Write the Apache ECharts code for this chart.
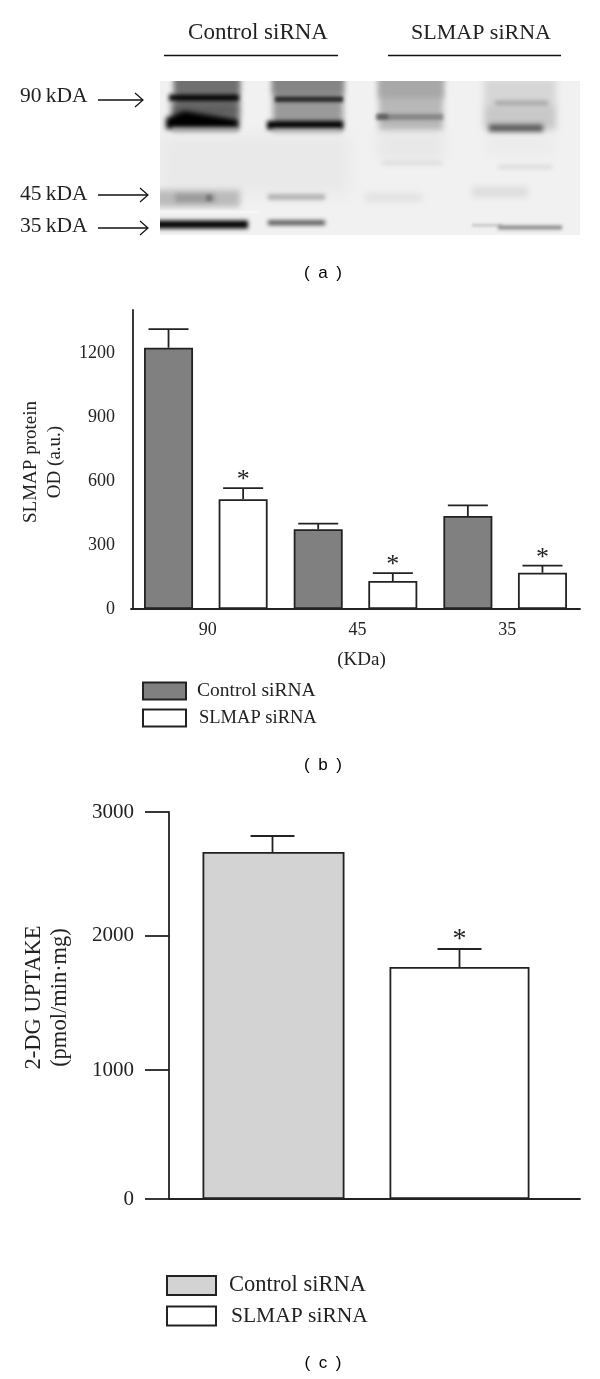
<!DOCTYPE html>
<html>
<head>
<meta charset="utf-8">
<style>html,body{margin:0;padding:0;background:#fff}#c{width:600px;height:1379px}</style>
<script src="https://cdn.jsdelivr.net/npm/echarts@6/dist/echarts.min.js"></script>
</head>
<body>
<div id="c"></div>
<script>
// Panel (b)
const categoriesB = ['90', '45', '35'];
const controlB = [1225, 374, 436];
const slmapB = [515, 131, 170];
const controlErrB = [1312, 400, 486];
const slmapErrB = [567, 168, 203];
const ticksB = [0, 300, 600, 900, 1200];
// Panel (c)
const controlC = [2690];
const slmapC = [1798];
const controlErrC = [2814];
const slmapErrC = [1938];
const ticksC = [0, 1000, 2040, 3000];           // the figure draws its 2000 tick slightly high
const tickLabelsC = ['0', '1000', '2000', '3000'];
const names = ['Control siRNA', 'SLMAP siRNA'];

const SERIF = '"Liberation Serif", serif';
const SANS = '"Liberation Sans", sans-serif';
const INK = '#222';

/* ---------- blot drawn as blurred shapes ---------- */
const OFF = 1000;
function blurRect(x, y, w, h, color, blur) {
  return { type: 'rect', silent: true, z: 1,
    shape: { x: x - OFF, y, width: w, height: h },
    style: { fill: color, shadowColor: color, shadowBlur: blur, shadowOffsetX: OFF } };
}
function blurPoly(points, color, blur) {
  return { type: 'polygon', silent: true, z: 1,
    shape: { points: points.map(p => [p[0] - OFF, p[1]]) },
    style: { fill: color, shadowColor: color, shadowBlur: blur, shadowOffsetX: OFF } };
}
const blot = [
  { type: 'rect', silent: true, z: 1, shape: { x: 160, y: 81, width: 420, height: 154 }, style: { fill: '#f1f1f1' } },
  blurRect(160, 135, 190, 60, '#e9e9e9', 14),
  blurRect(378, 130, 66, 30, '#e8e8e8', 12),
  blurRect(485, 135, 70, 20, '#ececec', 12),
  // lane 1
  blurRect(175, 70, 64, 58, '#8a8a8a', 6),
  blurRect(175, 70, 64, 24, '#707070', 6),
  blurRect(172, 102, 66, 16, '#606060', 7),
  blurRect(169, 94.5, 70, 6.5, '#000', 4),
  blurPoly([[166, 118], [184, 111], [238, 119.5], [238, 129], [166, 129]], '#000', 5),
  blurRect(172, 128, 66, 4, '#bbb', 5),
  // lane 2
  blurRect(273, 70, 70, 58, '#9a9a9a', 6),
  blurRect(273, 70, 70, 24, '#858585', 6),
  blurRect(275, 96.5, 68, 5.5, '#282828', 3.5),
  blurRect(267, 121, 76, 8.5, '#000', 4),
  blurRect(272, 129, 70, 4, '#c0c0c0', 5),
  // lane 3
  blurRect(379, 70, 64, 60, '#b8b8b8', 6),
  blurRect(379, 70, 64, 28, '#a8a8a8', 6),
  blurRect(376, 114, 67, 6, '#868686', 3.5),
  blurRect(378, 114.5, 10, 4.5, '#5c5c5c', 3.5),
  // lane 4
  blurRect(484, 78, 72, 52, '#d6d6d6', 7),
  blurRect(486, 106, 68, 22, '#c8c8c8', 7),
  blurRect(495, 101, 53, 4, '#a0a0a0', 4),
  blurRect(489, 124.5, 54, 7, '#555', 5),
  // faint middle bands
  blurRect(382, 161.5, 60, 3, '#d8d8d8', 4),
  blurRect(498, 165.5, 54, 3, '#d4d4d4', 4),
  // 45 kDa
  blurRect(155, 190, 85, 17, '#bbb', 6),
  blurRect(175, 194, 40, 8, '#999', 5),
  blurRect(206, 195, 6, 6, '#777', 3),
  blurRect(268, 194.5, 57, 5, '#a8a8a8', 4.5),
  blurRect(365, 194, 57, 7, '#dedede', 7),
  blurRect(472, 187, 56, 10, '#dcdcdc', 6),
  // streak between 45 and 35
  blurRect(160, 211, 100, 1.5, '#fcfcfc', 2),
  // 35 kDa
  blurRect(155, 220.5, 93, 8, '#000', 4),
  blurRect(268, 220.5, 57, 4.5, '#484848', 4),
  blurRect(472, 224, 30, 2.5, '#c0c0c0', 3),
  blurRect(498, 225.5, 64, 4, '#888', 3.5),
  // crop edges of the blot
  { type: 'rect', silent: true, z: 2, shape: { x: 100, y: 60, width: 60, height: 190 }, style: { fill: '#fff' } },
  { type: 'rect', silent: true, z: 2, shape: { x: 580, y: 60, width: 20, height: 190 }, style: { fill: '#fff' } },
  { type: 'rect', silent: true, z: 2, shape: { x: 150, y: 60, width: 440, height: 21 }, style: { fill: '#fff' } },
  { type: 'rect', silent: true, z: 2, shape: { x: 150, y: 235, width: 440, height: 20 }, style: { fill: '#fff' } }
];

function text(str, x, y, size, align, family, color) {
  return { type: 'text', z: 5, silent: true, x, y,
    style: { text: str, fill: color || INK, font: size + 'px ' + (family || SERIF), textAlign: align || 'left', textVerticalAlign: 'middle' } };
}
function hline(x1, x2, y, w) {
  return { type: 'line', z: 5, silent: true, shape: { x1, y1: y, x2, y2: y }, style: { stroke: '#111', lineWidth: w || 1.5 } };
}
function arrow(x1, x2, y) {
  return [
    hline(x1, x2, y, 1.3),
    { type: 'polyline', z: 5, silent: true, shape: { points: [[x2 - 8, y - 7], [x2, y], [x2 - 8, y + 7]] },
      style: { stroke: '#111', lineWidth: 1.2, fill: null } }
  ];
}
const annotations = [
  text('Control siRNA', 258, 33, 23, 'center'),
  text('SLMAP siRNA', 481, 33, 22, 'center'),
  hline(164, 338, 55.5), hline(388, 561, 55.5),
  text('90\u2009kDA', 20, 96, 21.5),
  text('45\u2009kDA', 20, 194, 21.5),
  text('35\u2009kDA', 20, 226, 21.5),
  ...arrow(98, 143, 100), ...arrow(98, 148, 195), ...arrow(98, 148, 228),
  text('(\u2002a\u2002)', 323, 273, 17, 'center', SANS, '#000'),
  text('(\u2002b\u2002)', 323, 765, 17, 'center', SANS, '#000'),
  text('(\u2002c\u2002)', 323, 1363, 17, 'center', SANS, '#000')
];

/* ---------- error bars, through the axes' own scales ---------- */
function errorBars(offsetPx, capHalf, starFont, starLift) {
  return function (params, api) {
    const base = api.coord([api.value(0), api.value(1)]);
    const top = api.coord([api.value(0), api.value(2)]);
    const x = base[0] + offsetPx;
    const stroke = { stroke: INK, lineWidth: 1.8 };
    const kids = [
      { type: 'line', shape: { x1: x, y1: base[1], x2: x, y2: top[1] }, style: stroke },
      { type: 'line', shape: { x1: x - capHalf, y1: top[1], x2: x + capHalf, y2: top[1] }, style: stroke }
    ];
    if (api.value(3)) {
      kids.push({ type: 'text', x, y: top[1] - starLift,
        style: { text: '*', fill: INK, font: starFont + 'px ' + SERIF, textAlign: 'center', textVerticalAlign: 'middle' } });
    }
    return { type: 'group', children: kids };
  };
}
const rows = (vals, errs, star) => vals.map((v, i) => [i, v, errs[i], star]);

const barStyle = fill => ({ color: fill, borderColor: INK, borderWidth: 1.8 });
const BW = 49, BG = 25.6;
const xC1 = 1, xC2 = 2;

const yAxisCommon = {
  type: 'value',
  splitLine: { show: false },
  axisLine: { show: true, lineStyle: { color: INK, width: 1.8 } },
  nameLocation: 'middle',
  nameRotate: 90,
  nameTextStyle: { color: INK, fontFamily: SERIF, lineHeight: 24 }
};

const option = {
  animation: false,
  backgroundColor: '#fff',
  grid: [
    { left: 131, top: 310, width: 449, height: 299 },
    { left: 169, top: 812, width: 411, height: 387 }
  ],
  xAxis: [
    { type: 'category', gridIndex: 0, data: categoriesB,
      axisLine: { lineStyle: { color: INK, width: 1.8 } }, axisTick: { show: false },
      axisLabel: { color: INK, fontFamily: SERIF, fontSize: 18, margin: 12, padding: [0, 0, 0, 4] },
      name: '(KDa)', nameLocation: 'middle', nameGap: 42,
      nameTextStyle: { color: INK, fontFamily: SERIF, fontSize: 19, padding: [0, 0, 0, 12] } },
    { type: 'value', gridIndex: 1, min: 0.4465, max: 2.6444,
      splitLine: { show: false }, axisTick: { show: false }, axisLabel: { show: false },
      axisLine: { onZero: false, lineStyle: { color: INK, width: 1.8 } } }
  ],
  yAxis: [
    Object.assign({}, yAxisCommon, { gridIndex: 0, min: 0, max: 1402, offset: -2,
      name: 'SLMAP protein\nOD (a.u.)', nameGap: 66,
      nameTextStyle: Object.assign({}, yAxisCommon.nameTextStyle, { fontSize: 19, padding: [0, 5, 0, 0] }),
      axisTick: { length: 10, customValues: ticksB, lineStyle: { color: INK, width: 1.8 } },
      axisLabel: { customValues: ticksB, color: INK, fontFamily: SERIF, fontSize: 18, margin: 18, formatter: v => String(v) } }),
    Object.assign({}, yAxisCommon, { gridIndex: 1, min: 0, max: 3000,
      name: '2-DG UPTAKE\n(pmol/min\u00b7mg)', nameGap: 96,
      nameTextStyle: Object.assign({}, yAxisCommon.nameTextStyle, { fontSize: 22.5, lineHeight: 26, padding: [0, 0, 0, 16] }),
      axisTick: { length: 24, customValues: ticksC, lineStyle: { color: INK, width: 1.8 } },
      axisLabel: { customValues: ticksC, color: INK, fontFamily: SERIF, fontSize: 21, margin: 35,
        formatter: v => tickLabelsC[ticksC.indexOf(v)] } })
  ],
  legend: [
    { left: 142, top: 681, orient: 'vertical', padding: 0, icon: 'rect', itemWidth: 43, itemHeight: 17, itemGap: 7.5,
      selectedMode: false, textStyle: { color: INK, fontFamily: SERIF, padding: [2, 0, 0, 6] },
      data: [{ name: names[0], textStyle: { fontSize: 19.5 } }, { name: names[1], textStyle: { fontSize: 18.5, padding: [2, 0, 0, 8] } }] },
    { left: 166, top: 1274, orient: 'vertical', padding: 0, icon: 'rect', itemWidth: 49, itemHeight: 19, itemGap: 8,
      selectedMode: false, textStyle: { color: INK, fontFamily: SERIF, padding: [0, 0, 0, 8] },
      data: [{ name: names[0], itemStyle: { color: '#d3d3d3' }, textStyle: { fontSize: 22.5 } }, { name: names[1], textStyle: { fontSize: 21.5, padding: [0, 0, 0, 10] } }] }
  ],
  series: [
    { name: names[0], type: 'bar', xAxisIndex: 0, yAxisIndex: 0, data: controlB, barWidth: BW, barGap: (BG / BW * 100) + '%', itemStyle: barStyle('#808080') },
    { name: names[1], type: 'bar', xAxisIndex: 0, yAxisIndex: 0, data: slmapB, barWidth: BW, barGap: (BG / BW * 100) + '%', itemStyle: barStyle('#fff') },
    { type: 'custom', xAxisIndex: 0, yAxisIndex: 0, z: 1, renderItem: errorBars(-(BW + BG) / 2, 20, 26, 8), data: rows(controlB, controlErrB, 0), silent: true },
    { type: 'custom', xAxisIndex: 0, yAxisIndex: 0, z: 1, renderItem: errorBars((BW + BG) / 2, 20, 26, 8), data: rows(slmapB, slmapErrB, 1), silent: true },
    { name: names[0], type: 'bar', xAxisIndex: 1, yAxisIndex: 1, data: [[xC1, controlC[0]]], barWidth: 142, barGap: '-100%', itemStyle: barStyle('#d3d3d3') },
    { name: names[1], type: 'bar', xAxisIndex: 1, yAxisIndex: 1, data: [[xC2, slmapC[0]]], barWidth: 140, barGap: '-100%', itemStyle: barStyle('#fff') },
    { type: 'custom', xAxisIndex: 1, yAxisIndex: 1, z: 1, renderItem: errorBars(0, 22, 28, 9), data: [[xC1, controlC[0], controlErrC[0], 0]], silent: true },
    { type: 'custom', xAxisIndex: 1, yAxisIndex: 1, z: 1, renderItem: errorBars(0, 22, 28, 9), data: [[xC2, slmapC[0], slmapErrC[0], 1]], silent: true }
  ],
  graphic: { elements: blot.concat(annotations) }
};

const chart = echarts.init(document.getElementById('c'), null, { renderer: 'canvas', width: 600, height: 1379 });
chart.setOption(option);
</script>
</body>
</html>
